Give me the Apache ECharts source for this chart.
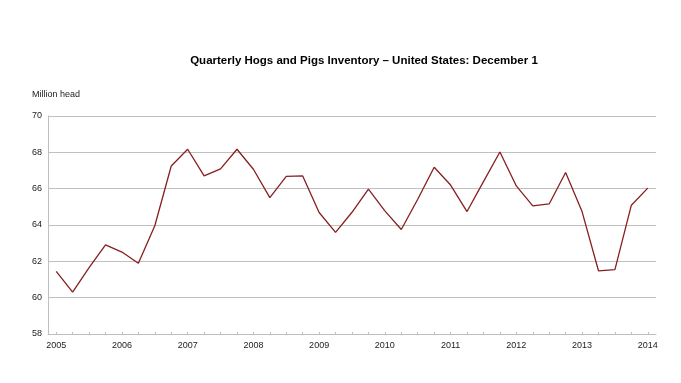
<!DOCTYPE html>
<html>
<head>
<meta charset="utf-8">
<script src="https://cdn.jsdelivr.net/npm/echarts@6/dist/echarts.min.js"></script>
<style>html,body{margin:0;padding:0;background:#fff;}#c{width:681px;height:383px;}</style>
</head>
<body>
<div id="c"></div>
<script>
var quarters = [
  "2005-Q1","2005-Q2","2005-Q3","2005-Q4",
  "2006-Q1","2006-Q2","2006-Q3","2006-Q4",
  "2007-Q1","2007-Q2","2007-Q3","2007-Q4",
  "2008-Q1","2008-Q2","2008-Q3","2008-Q4",
  "2009-Q1","2009-Q2","2009-Q3","2009-Q4",
  "2010-Q1","2010-Q2","2010-Q3","2010-Q4",
  "2011-Q1","2011-Q2","2011-Q3","2011-Q4",
  "2012-Q1","2012-Q2","2012-Q3","2012-Q4",
  "2013-Q1","2013-Q2","2013-Q3","2013-Q4",
  "2014-Q1"
];
var inventory = [
  61.45, 60.31, 61.65, 62.91,
  62.51, 61.89, 63.96, 67.25,
  68.17, 66.70, 67.09, 68.17,
  67.07, 65.51, 66.68, 66.70,
  64.69, 63.59, 64.70, 65.97,
  64.78, 63.75, 65.42, 67.18,
  66.20, 64.74, 66.39, 68.02,
  66.15, 65.05, 65.16, 66.89,
  64.74, 61.48, 61.54, 65.09,
  66.03
];
var yTicks = { min: 58, max: 70, step: 2 };
var titleText = "Quarterly Hogs and Pigs Inventory \u2013 United States: December 1";
var unitText = "Million head";

var chart = echarts.init(document.getElementById('c'));
chart.setOption({
  animation: false,
  backgroundColor: '#ffffff',
  title: {
    text: titleText,
    left: 359, top: 50, textAlign: 'center',
    textStyle: { fontFamily: 'Liberation Sans, Arial, sans-serif', fontSize: 11.5, fontWeight: 'bold', color: '#000' }
  },
  graphic: [{
    type: 'text', left: 32, top: 90,
    style: { text: unitText, fontFamily: 'Liberation Sans, Arial, sans-serif', fontSize: 9, fill: '#222' }
  }],
  grid: { left: 48, right: 25, top: 116, bottom: 49, containLabel: false },
  xAxis: {
    type: 'category',
    data: quarters,
    boundaryGap: true,
    axisLine: { lineStyle: { color: '#bfbfbf', width: 1 } },
    axisTick: { show: true, interval: 0, alignWithLabel: true, length: 2, inside: true, lineStyle: { color: '#bfbfbf' } },
    axisLabel: {
      interval: 3, margin: 7,
      fontFamily: 'Liberation Sans, Arial, sans-serif', fontSize: 9, color: '#222',
      formatter: function (v) { return v.slice(0, 4); }
    },
    splitLine: { show: false }
  },
  yAxis: {
    type: 'value',
    min: yTicks.min, max: yTicks.max, interval: yTicks.step,
    axisLine: { show: true, lineStyle: { color: '#bfbfbf', width: 1 } },
    axisTick: { show: false },
    axisLabel: { margin: 6, fontFamily: 'Liberation Sans, Arial, sans-serif', fontSize: 9, color: '#222' },
    splitLine: { show: true, lineStyle: { color: '#c0c0c0', width: 1 } }
  },
  series: [{
    type: 'line',
    data: inventory,
    showSymbol: false,
    symbol: 'none',
    lineStyle: { color: '#861f1f', width: 1.3 },
    itemStyle: { color: '#861f1f' }
  }]
});
</script>
</body>
</html>
